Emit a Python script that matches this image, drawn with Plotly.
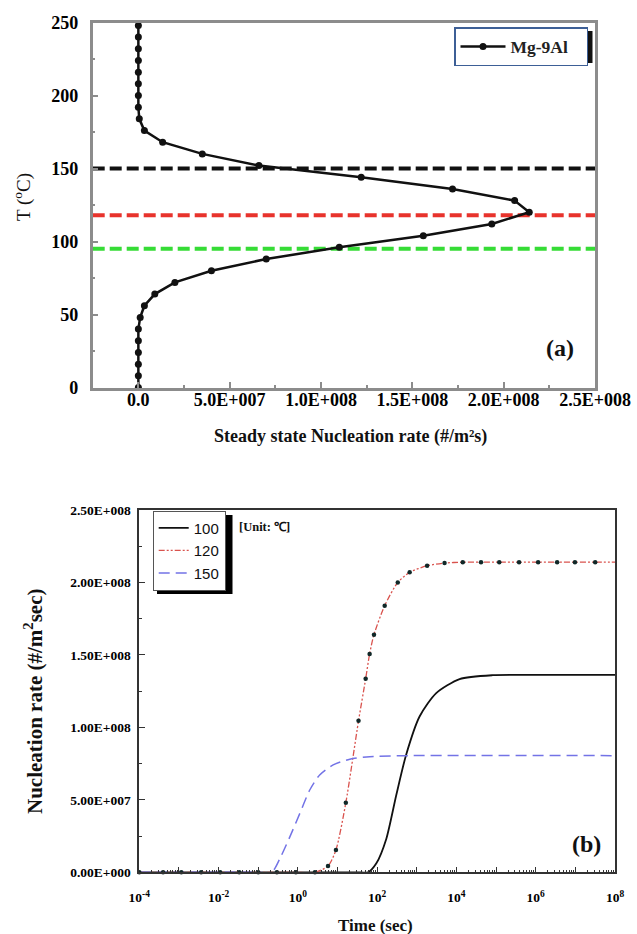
import plotly.graph_objects as go

# ---------------- Data: panel (a) ----------------
temp_a = [0, 8, 16, 24, 32, 40, 48, 56, 64, 72, 80, 88, 96, 104, 112, 120,
          128, 136, 144, 152, 160, 168, 176, 184, 192, 200, 208, 216, 224,
          232, 240, 248]
rate_a = [0, 0, 0, 0, 0, 0, 1.0e6, 3.3e6, 9.0e6, 2.0e7, 4.0e7, 7.0e7, 1.10e8,
          1.56e8, 1.935e8, 2.14e8, 2.06e8, 1.72e8, 1.22e8, 6.6e7, 3.5e7,
          1.33e7, 3.3e6, 5.0e5, 0, 0, 0, 0, 0, 0, 0, 0]
ref_temps = [150, 118, 95]
ref_colors = ["#111111", "#e8332c", "#36dc36"]
x_range_a = [-2.5e7, 2.5e8]
xticks_a = [0, 5e7, 1e8, 1.5e8, 2e8, 2.5e8]
xticklabels_a = ["0.0", "5.0E+007", "1.0E+008", "1.5E+008", "2.0E+008", "2.5E+008"]
yticks_a = [0, 50, 100, 150, 200, 250]

# ---------------- Data: panel (b) ----------------
# log10(time), value in #/m^2 sec
t100_exp = [-4, 0, 1.5, 1.77, 1.98, 2.23, 2.48, 2.73, 3.07, 3.49, 4.08, 4.91, 6, 8]
n100 = [0, 0, 0, 0, 6.2e6, 2.3e7, 5.3e7, 8.1e7, 1.075e8, 1.236e8, 1.333e8,
        1.36e8, 1.362e8, 1.362e8]

t120_exp = [-4, -3.4, -2.94, -2.44, -1.96, -1.48, -1.0, -0.53, -0.05, 0.43,
            0.76, 0.96, 1.21, 1.53, 1.71, 1.81, 1.92, 2.19, 2.52, 2.82, 3.26,
            3.70, 4.16, 4.62, 5.08, 5.58, 6.06, 6.54, 6.99, 7.5]
n120 = [0, 0, 0, 0, 0, 0, 0, 0, 0, 0,
        4.3e6, 1.54e7, 4.8e7, 1.045e8, 1.335e8, 1.507e8, 1.64e8, 1.84e8,
        2.0e8, 2.07e8, 2.115e8, 2.134e8, 2.14e8, 2.14e8, 2.14e8, 2.14e8,
        2.14e8, 2.14e8, 2.14e8, 2.14e8]
t120_line_end_exp = 8
n120_line_end = 2.14e8

t150_exp = [-4, -1.0, -0.66, -0.45, -0.20, 0.05, 0.30, 0.55, 0.89, 1.31, 1.81,
            2.82, 8]
n150 = [0, 0, 0, 9.7e6, 2.46e7, 4.07e7, 5.68e7, 6.72e7, 7.41e7, 7.8e7,
        7.98e7, 8.05e7, 8.05e7]

yticks_b = [0, 5e7, 1e8, 1.5e8, 2e8, 2.5e8]
yticklabels_b = ["0.00E+000", "5.00E+007", "1.00E+008", "1.50E+008",
                 "2.00E+008", "2.50E+008"]
decades_b = list(range(-4, 9))

W, H = 637, 934
SERIF = "Liberation Serif"
SANS = "Liberation Sans"


def px(x):
    return x / W


def py(y):
    return 1 - y / H


fig = go.Figure()

# ---- panel (a) traces ----
for t, c in zip(ref_temps, ref_colors):
    fig.add_trace(go.Scatter(
        x=x_range_a, y=[t, t], mode="lines", xaxis="x", yaxis="y",
        line=dict(color=c, width=4, dash="12px,5px"), showlegend=False,
        hoverinfo="skip"))

fig.add_trace(go.Scatter(
    x=rate_a, y=temp_a, mode="lines+markers",
    name="Mg-9Al\u00a0\u00a0\u00a0",
    xaxis="x", yaxis="y", legend="legend", cliponaxis=False,
    line=dict(color="#111111", width=2.5),
    marker=dict(color="#111111", size=7)))

# ---- panel (b) traces ----
t100 = [10 ** e for e in t100_exp]
t120 = [10 ** e for e in t120_exp]
t150 = [10 ** e for e in t150_exp]

fig.add_trace(go.Scatter(
    x=t100, y=n100, mode="lines", name="100", xaxis="x2", yaxis="y2",
    legend="legend2", line=dict(color="#111111", width=1.8, shape="spline",
                                smoothing=0.7)))
fig.add_trace(go.Scatter(
    x=t120 + [10 ** t120_line_end_exp], y=n120 + [n120_line_end],
    mode="lines", name="120", xaxis="x2", yaxis="y2", legend="legend2",
    line=dict(color="#d9534e", width=1.3, shape="spline", smoothing=0.7,
              dash="6px,2px,2px,2px,2px,2px")))
fig.add_trace(go.Scatter(
    x=t150, y=n150, mode="lines", name="150", xaxis="x2", yaxis="y2",
    legend="legend2", line=dict(color="#7373e6", width=1.5, shape="spline",
                                smoothing=0.7, dash="11px,6px")))
fig.add_trace(go.Scatter(
    x=t120, y=n120, mode="markers", xaxis="x2", yaxis="y2",
    showlegend=False, cliponaxis=False,
    marker=dict(color="#102828", size=4.5)))

axis_font_a = dict(family=SERIF, size=18, color="black", weight="bold")
axis_font_b = dict(family=SERIF, size=13.5, color="black", weight="bold")

minor_b = [k * 10 ** e for e in range(-4, 8) for k in range(2, 10)]


def ann(text, x, y, size, bold=True, angle=0, xanchor="center"):
    return dict(text=text, x=px(x), y=py(y), xref="paper", yref="paper",
                showarrow=False, xanchor=xanchor, yanchor="middle",
                textangle=angle,
                font=dict(family=SERIF, size=size, color="#111",
                          weight="bold" if bold else "normal"))


fig.update_layout(
    template="none",
    width=W, height=H, autosize=False,
    margin=dict(l=0, r=0, t=0, b=0, pad=0),
    paper_bgcolor="white", plot_bgcolor="white",
    xaxis=dict(domain=[px(92.7), px(595)], range=x_range_a, automargin=False,
               anchor="y", showgrid=False, zeroline=False,
               showline=True, mirror=True, linecolor="#8c8c8c", linewidth=2.5,
               ticks="inside", ticklen=6, tickwidth=1.5, tickcolor="#8c8c8c",
               tickmode="array", tickvals=xticks_a, ticktext=xticklabels_a,
               tickfont=axis_font_a, ticklabelstandoff=-6,
               minor=dict(ticks="inside", ticklen=3, tickcolor="#8c8c8c",
                          tickmode="array",
                          tickvals=[2.5e7, 7.5e7, 1.25e8, 1.75e8, 2.25e8])),
    yaxis=dict(domain=[py(387.5), py(22.5)], range=[0, 250], automargin=False,
               anchor="x", showgrid=False, zeroline=False,
               showline=True, mirror=True, linecolor="#8c8c8c", linewidth=2.5,
               ticks="inside", ticklen=6, tickwidth=1.5, tickcolor="#8c8c8c",
               tickmode="array", tickvals=yticks_a,
               tickfont=axis_font_a, ticklabelstandoff=8,
               minor=dict(ticks="inside", ticklen=3, tickcolor="#8c8c8c",
                          dtick=25)),
    xaxis2=dict(domain=[px(139.3), px(615)], type="log", range=[-4, 8],
                automargin=False,
                anchor="y2", showgrid=False, zeroline=False,
                showline=True, mirror=True, linecolor="#333333", linewidth=1.6,
                ticks="inside", ticklen=6, tickwidth=1.2, tickcolor="#333333",
                tickmode="array", tickvals=[10 ** d for d in decades_b],
                ticktext=[("10<sup>%d</sup>" % d) if d % 2 == 0 else ""
                          for d in decades_b],
                tickfont=axis_font_b, ticklabelstandoff=12,
                minor=dict(ticks="inside", ticklen=3, tickcolor="#333333",
                           tickmode="array", tickvals=minor_b)),
    yaxis2=dict(domain=[py(872.3), py(510)], range=[0, 2.5e8],
                automargin=False,
                anchor="x2", showgrid=False, zeroline=False,
                showline=True, mirror=True, linecolor="#333333", linewidth=1.6,
                ticks="inside", ticklen=6, tickwidth=1.2, tickcolor="#333333",
                tickmode="array", tickvals=yticks_b, ticktext=yticklabels_b,
                tickfont=axis_font_b, ticklabelstandoff=4,
                minor=dict(ticks="inside", ticklen=3, tickcolor="#333333",
                           dtick=2.5e7)),
    legend=dict(x=px(454), y=py(27), xanchor="left", yanchor="top",
                bgcolor="white", bordercolor="#3d5f96", borderwidth=1.5,
                itemwidth=45,
                font=dict(family=SERIF, size=17.5, color="#222",
                          weight="bold")),
    legend2=dict(x=px(152.7), y=py(510.7), xanchor="left", yanchor="top",
                 bgcolor="white", bordercolor="#555555", borderwidth=1,
                 tracegroupgap=0,
                 font=dict(family=SANS, size=15, color="#111")),
    shapes=[
        dict(type="rect", xref="paper", yref="paper",
             x0=px(587), x1=px(592.5), y0=py(63), y1=py(31),
             fillcolor="#111", line=dict(width=0), layer="above"),
        dict(type="rect", xref="paper", yref="paper",
             x0=px(157), x1=px(232.5), y0=py(594), y1=py(515),
             fillcolor="#000", line=dict(width=0), layer="above"),
    ],
    annotations=[
        ann("(a)", 560, 347.7, 24),
        ann("(b)", 586.7, 844, 24),
        ann("Steady state Nucleation rate (#/m²s)", 350, 436.5, 18),
        ann("T (<sup>o</sup>C)", 22, 197, 19, bold=False, angle=-90),
        ann("Nucleation rate (#/m<sup>2</sup>sec)", 33, 702, 21, angle=-90),
        ann("Time (sec)", 375, 925, 17),
        ann("[Unit: ℃]", 237, 527, 12.5, xanchor="left"),
    ],
)

fig.write_html("out.html", config={"displayModeBar": False},
               post_script="document.body.style.margin='0px';")
